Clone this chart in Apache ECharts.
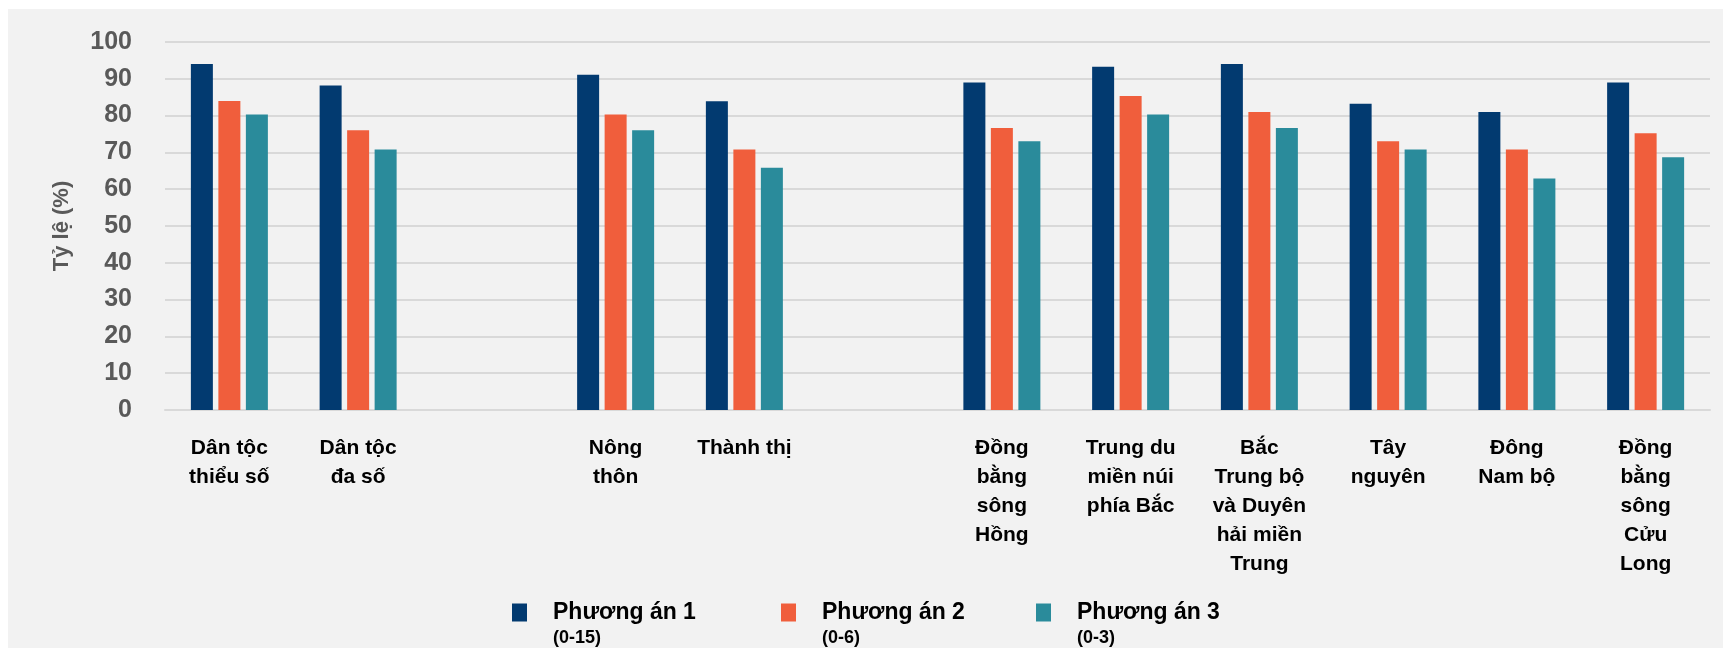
<!DOCTYPE html>
<html>
<head>
<meta charset="utf-8">
<script src="https://cdn.jsdelivr.net/npm/echarts@6/dist/echarts.min.js"></script>
<style>
  html, body { margin: 0; padding: 0; background: #ffffff; }
  #chart { position: absolute; left: 0; top: 0; width: 1723px; height: 648px; }
</style>
</head>
<body>
<div id="chart"></div>
<script>
// Category labels (empty entries leave a gap between the groups of categories)
const categories = [
  'Dân tộc\nthiểu số', 'Dân tộc\nđa số', '',
  'Nông\nthôn', 'Thành thị', '',
  'Đồng\nbằng\nsông\nHồng', 'Trung du\nmiền núi\nphía Bắc',
  'Bắc\nTrung bộ\nvà Duyên\nhải miền\nTrung', 'Tây\nnguyên',
  'Đông\nNam bộ', 'Đồng\nbằng\nsông\nCửu\nLong'
];

const seriesNames = ['Phương án 1', 'Phương án 2', 'Phương án 3'];
const seriesRanges = ['(0-15)', '(0-6)', '(0-3)'];

// Share (%) for each option
const option1 = [94.0, 88.2, null, 91.1, 83.9, null, 89.0, 93.3, 94.0, 83.2, 81.0, 89.0];
const option2 = [84.0, 76.0, null, 80.3, 70.8, null, 76.6, 85.3, 81.0, 73.0, 70.8, 75.2];
const option3 = [80.3, 70.8, null, 76.0, 65.8, null, 73.0, 80.3, 76.6, 70.8, 62.9, 68.7];

const yTicks = { min: 0, max: 100, interval: 10 };

const colors = ['#023a70', '#f05e3c', '#2a8b9b'];
const FONT = '"Liberation Sans", Arial, sans-serif';

const chart = echarts.init(document.getElementById('chart'), null, { renderer: 'canvas' });

// Legend square sits beside the first text line; the invisible corner point widens the icon box
const legendIcon = 'path://M0,0h15v18h-15z M36,46h0.01v0.01h-0.01z';
const legendLeft = [512, 781, 1036];

const option = {
  backgroundColor: '#ffffff',
  animation: false,
  graphic: [{
    type: 'rect',
    left: 8, top: 9,
    shape: { width: 1723 - 8, height: 648 - 9 },
    style: { fill: '#f2f2f2' },
    z: -10
  }],
  grid: { left: 165, right: 13, top: 42, bottom: 238, containLabel: false },
  xAxis: {
    type: 'category',
    data: categories,
    axisTick: { show: false },
    axisLine: { show: true, lineStyle: { color: '#d9d9d9', width: 2 } },
    axisLabel: {
      interval: 0,
      margin: 24,
      color: '#000000',
      fontFamily: FONT,
      fontWeight: 'bold',
      fontSize: 21,
      lineHeight: 29,
      verticalAlign: 'top'
    }
  },
  yAxis: {
    type: 'value',
    min: yTicks.min, max: yTicks.max, interval: yTicks.interval,
    name: 'Tỷ lệ (%)',
    nameLocation: 'middle',
    nameGap: 92,
    nameRotate: 90,
    nameTextStyle: { color: '#595959', fontFamily: FONT, fontWeight: 'bold', fontSize: 22 },
    axisLine: { show: false },
    axisTick: { show: false },
    axisLabel: { color: '#595959', fontFamily: FONT, fontWeight: 'bold', fontSize: 25, margin: 33 },
    splitLine: { show: true, lineStyle: { color: '#d9d9d9', width: 2 } }
  },
  legend: seriesNames.map((name, i) => ({
    data: [name],
    left: legendLeft[i],
    top: 601,
    icon: legendIcon,
    itemWidth: 36,
    itemHeight: 46,
    itemGap: 0,
    padding: 0,
    selectedMode: false,
    formatter: n => '{a|' + n + '}\n{b|' + seriesRanges[seriesNames.indexOf(n)] + '}',
    textStyle: {
      rich: {
        a: { fontFamily: FONT, fontWeight: 'bold', fontSize: 23, color: '#000000', lineHeight: 24 },
        b: { fontFamily: FONT, fontWeight: 'bold', fontSize: 18, color: '#000000', lineHeight: 28 }
      }
    }
  })),
  series: [option1, option2, option3].map((data, i) => ({
    name: seriesNames[i],
    type: 'bar',
    data: data,
    barWidth: 22,
    barGap: '25%',
    itemStyle: { color: colors[i] }
  }))
};

chart.setOption(option);
</script>
</body>
</html>
